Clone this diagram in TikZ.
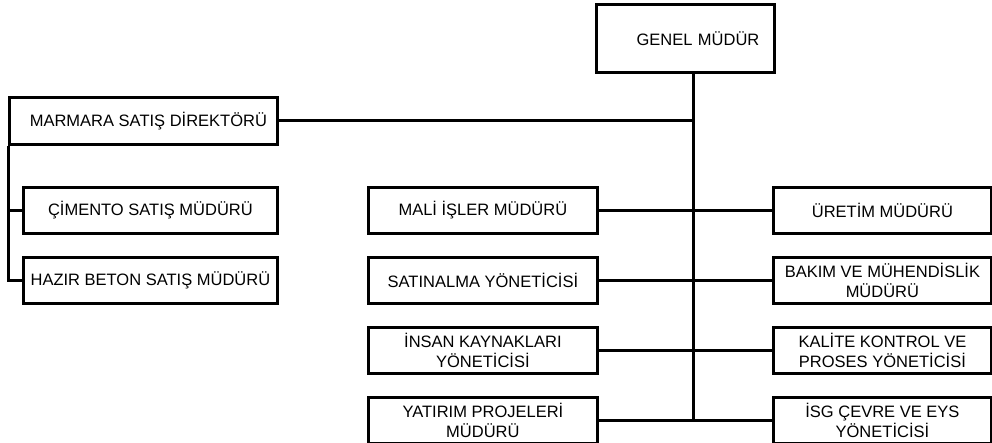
\documentclass[tikz,border=0pt]{standalone}
\usepackage{fontspec}
\setmainfont{Liberation Sans}
\newcommand\vsep{70}
\newcommand\boxheight{46pt}
\newcommand\widthleft{229pt}
\newcommand\widthright{218pt}
\newcommand\widthsales{254pt}
\tikzset{
  orgbox/.style={draw,line width=2.8pt,anchor=north west,inner sep=0pt,align=center,
    minimum height=\boxheight,font=\fontsize{16.5}{20}\selectfont},
  orgline/.style={line width=3pt}
}

\begin{document}
\begin{tikzpicture}[x=1pt,y=-1pt]
    \useasboundingbox (0,0) rectangle (992,443);

    \node[orgbox,minimum width=178pt,minimum height=68pt,text width=148pt,align=right] (genel) at (595,3) {GENEL MÜDÜR};

    \node[orgbox,minimum width=268pt,minimum height=47pt] (marmara) at (8,96) {\hspace{10pt}MARMARA SATIŞ DİREKTÖRÜ};
    \node[orgbox,minimum width=\widthsales] (cimento) at (22,186) {ÇİMENTO SATIŞ MÜDÜRÜ};
    \node[orgbox,minimum width=\widthsales] (hazir) at (22,186+1*\vsep) {HAZIR BETON SATIŞ MÜDÜRÜ};

    \node[orgbox,minimum width=\widthleft] (mali) at (367,186) {MALİ İŞLER MÜDÜRÜ};
    \node[orgbox,minimum width=\widthleft] (satinalma) at (367,186+1*\vsep) {SATINALMA YÖNETİCİSİ};
    \node[orgbox,minimum width=\widthleft] (insan) at (367,186+2*\vsep) {İNSAN KAYNAKLARI\\YÖNETİCİSİ};
    \node[orgbox,minimum width=\widthleft] (yatirim) at (367,186+3*\vsep) {YATIRIM PROJELERİ\\MÜDÜRÜ};

    \node[orgbox,minimum width=\widthright] (uretim) at (772,186) {ÜRETİM MÜDÜRÜ};
    \node[orgbox,minimum width=\widthright] (bakim) at (772,186+1*\vsep) {BAKIM VE MÜHENDİSLİK\\MÜDÜRÜ};
    \node[orgbox,minimum width=\widthright] (kalite) at (772,186+2*\vsep) {KALİTE KONTROL VE\\PROSES YÖNETİCİSİ};
    \node[orgbox,minimum width=\widthright] (isg) at (772,186+3*\vsep) {İSG ÇEVRE VE EYS\\YÖNETİCİSİ};

    \coordinate (trunk) at (693,0);

    \draw[orgline] (genel.south -| trunk) -- (yatirim.east -| trunk);
    \draw[orgline] (marmara.east) -- (marmara.east -| trunk);
    \draw[orgline] (mali.east) -- (uretim.west);
    \draw[orgline] (satinalma.east) -- (bakim.west);
    \draw[orgline] (insan.east) -- (kalite.west);
    \draw[orgline] (yatirim.east) -- (isg.west);

    \draw[orgline] (marmara.south west) -- (hazir.west -| marmara.south west) -- (hazir.west);
    \draw[orgline] (cimento.west -| marmara.south west) -- (cimento.west);

  \end{tikzpicture}
\end{document}
